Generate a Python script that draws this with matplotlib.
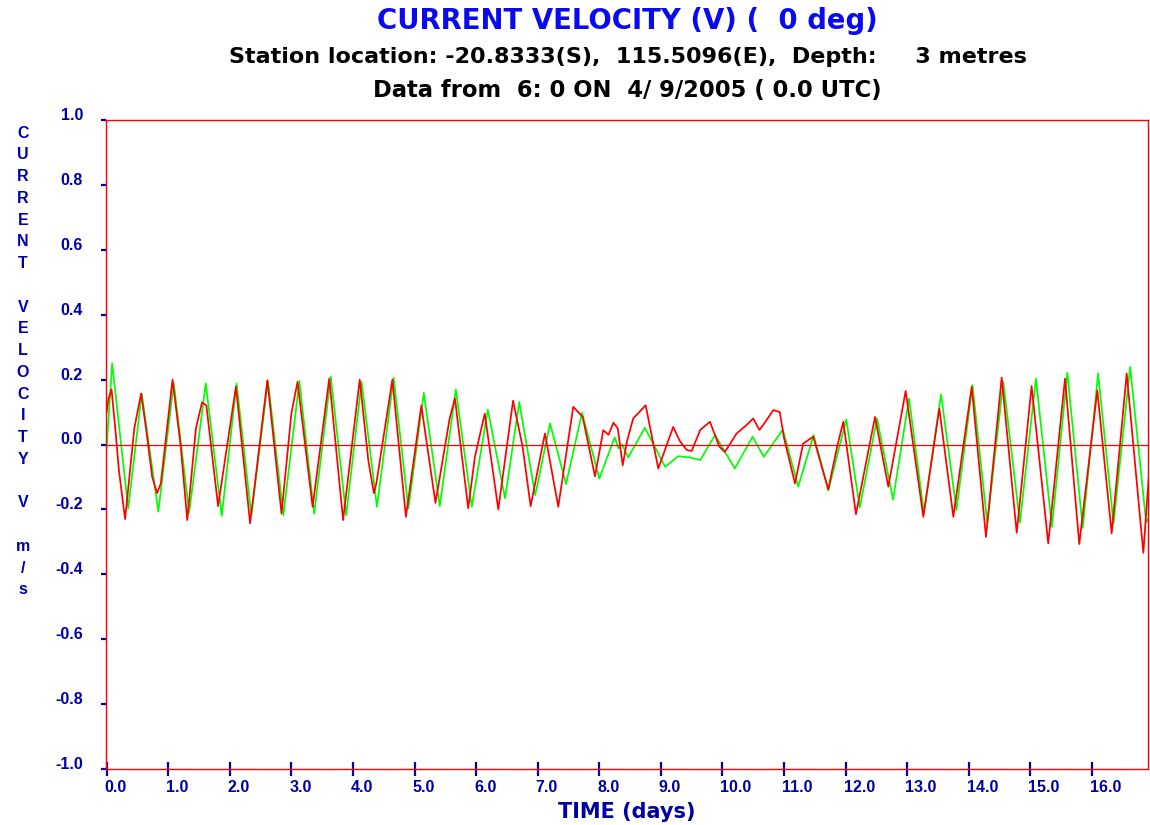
import matplotlib
matplotlib.use("Agg")
import matplotlib.pyplot as plt
import matplotlib.transforms as mtransforms
import numpy as np

plt.rcParams['font.family'] = ['Liberation Sans', 'DejaVu Sans']
plt.rcParams['font.weight'] = 'bold'

# predicted current (green)
pred_t = [0.0, 0.09, 0.35, 0.57, 0.84, 1.09, 1.34, 1.61, 1.87, 2.11, 2.35, 2.62, 2.87, 3.13,
          3.37, 3.64, 3.89, 4.14, 4.39, 4.66, 4.90, 5.15, 5.41, 5.67, 5.93, 6.19, 6.47, 6.70,
          6.96, 7.20, 7.46, 7.72, 8.00, 8.25, 8.31, 8.37, 8.47, 8.74, 9.07, 9.28, 9.47, 9.64,
          9.88, 10.20, 10.49, 10.67, 10.98, 11.23, 11.48, 11.72, 12.01, 12.23, 12.51, 12.77,
          13.03, 13.27, 13.55, 13.80, 14.06, 14.30, 14.56, 14.83, 15.09, 15.35, 15.60, 15.85,
          16.10, 16.35, 16.62, 16.88, 16.91]
pred_v = [-0.01, 0.25, -0.197, 0.157, -0.207, 0.19, -0.21, 0.188, -0.22, 0.188, -0.218, 0.196,
          -0.218, 0.196, -0.213, 0.209, -0.218, 0.193, -0.192, 0.206, -0.197, 0.159, -0.19,
          0.17, -0.192, 0.108, -0.166, 0.131, -0.156, 0.065, -0.122, 0.098, -0.105, 0.022,
          -0.012, 0.0, -0.04, 0.052, -0.069, -0.036, -0.04, -0.048, 0.029, -0.074, 0.024,
          -0.038, 0.046, -0.13, 0.029, -0.141, 0.077, -0.194, 0.08, -0.17, 0.142, -0.21, 0.154,
          -0.202, 0.183, -0.243, 0.193, -0.241, 0.203, -0.254, 0.221, -0.257, 0.219, -0.243,
          0.239, -0.24, -0.23]

# observed current (red)
obs_t = [0.0, 0.03, 0.08, 0.14, 0.20, 0.30, 0.45, 0.56, 0.64, 0.74, 0.82, 0.88, 1.07, 1.20,
         1.31, 1.45, 1.55, 1.62, 1.81, 2.10, 2.33, 2.61, 2.84, 3.00, 3.10, 3.345, 3.615, 3.84,
         4.11, 4.25, 4.34, 4.38, 4.64, 4.86, 5.11, 5.34, 5.57, 5.656, 5.872, 5.98, 6.14, 6.36,
         6.60, 6.755, 6.885, 7.118, 7.334, 7.577, 7.73, 7.93, 8.065, 8.15, 8.23, 8.30, 8.38,
         8.45, 8.55, 8.65, 8.753, 8.958, 9.2, 9.31, 9.42, 9.5, 9.64, 9.797, 9.95, 10.04, 10.23,
         10.39, 10.5, 10.6, 10.68, 10.825, 10.93, 11.0, 11.177, 11.31, 11.475, 11.718, 11.77,
         11.87, 11.962, 12.168, 12.477, 12.693, 12.975, 13.262, 13.521, 13.749, 14.047, 14.279,
         14.534, 14.778, 15.02, 15.29, 15.562, 15.794, 16.087, 16.32, 16.564, 16.834, 16.93]
obs_v = [0.10, 0.14, 0.17, 0.05, -0.08, -0.23, 0.05, 0.157, 0.05, -0.10, -0.15, -0.12, 0.20,
         0.0, -0.233, 0.05, 0.13, 0.12, -0.19, 0.178, -0.243, 0.198, -0.213, 0.095, 0.193,
         -0.192, 0.203, -0.233, 0.20, -0.05, -0.15, -0.12, 0.20, -0.223, 0.12, -0.18, 0.08,
         0.142, -0.197, -0.038, 0.095, -0.20, 0.135, -0.007, -0.19, 0.034, -0.192, 0.116,
         0.085, -0.098, 0.044, 0.03, 0.067, 0.05, -0.064, 0.01, 0.08, 0.10, 0.121, -0.074,
         0.054, 0.01, -0.017, -0.02, 0.045, 0.07, -0.007, -0.023, 0.034, 0.06, 0.08, 0.045,
         0.065, 0.106, 0.10, 0.02, -0.12, 0.003, 0.024, -0.139, -0.09, 0.0, 0.07, -0.215,
         0.085, -0.13, 0.165, -0.223, 0.111, -0.223, 0.178, -0.285, 0.206, -0.272, 0.18,
         -0.305, 0.203, -0.307, 0.167, -0.274, 0.219, -0.334, -0.08]

xticks = list(range(0, 17))
xtick_labels = [f"{v:.1f}" for v in xticks]
yticks = [-1.0, -0.8, -0.6, -0.4, -0.2, 0.0, 0.2, 0.4, 0.6, 0.8, 1.0]
ytick_labels = ["-1.0", "-0.8", "-0.6", "-0.4", "-0.2", "0.0", "0.2", "0.4", "0.6", "0.8", "1.0"]
ylabel_chars = list("CURRENT") + [""] + list("VELOCITY") + [""] + ["V"] + [""] + list("m/s")

navy = '#0000A8'
wide = ['DejaVu Sans']  # the headings in the original are drawn wider than Arial
W, H = 1150, 825
fig = plt.figure(figsize=(W / 100, H / 100), dpi=100)
ax = fig.add_axes([106 / W, 1 - 769 / H, (1148 - 106) / W, (769 - 120) / H])

ax.plot(pred_t, pred_v, color='#00FF00', lw=1.25)
ax.plot(obs_t, obs_v, color='#FF0000', lw=1.25)
ax.axhline(0, color='#FF0000', lw=0.9)

ax.set_xlim(-0.01, 16.91)
ax.set_ylim(-1.0, 1.0)
for sp in ax.spines.values():
    sp.set_color('#FF0000')
    sp.set_linewidth(1.0)

ax.set_xticks(xticks)
ax.set_xticklabels(xtick_labels)
ax.set_yticks(yticks)
ax.set_yticklabels(ytick_labels)
ax.tick_params(axis='x', direction='inout', length=10, width=1.6, color=navy,
               labelcolor=navy, labelsize=11.5, pad=3)
ax.tick_params(axis='y', direction='out', length=3.5, width=1.6, color=navy,
               labelcolor=navy, labelsize=11.5, pad=13)
for lab in ax.get_xticklabels():
    lab.set_ha('left')
    lab.set_fontweight('bold')
    lab.set_transform(lab.get_transform() + mtransforms.ScaledTranslation(-0.02, 0, fig.dpi_scale_trans))
for lab in ax.get_yticklabels():
    lab.set_fontweight('bold')
    lab.set_transform(lab.get_transform() + mtransforms.ScaledTranslation(0, 0.06, fig.dpi_scale_trans))

# titles
fig.text(627 / W, 1 - 21 / H, "CURRENT VELOCITY (V) (  0 deg)", color='#0A0AF0',
         fontsize=19.8, fontweight='bold', family=wide, ha='center', va='center')
fig.text(628 / W, 1 - 57 / H, "Station location: -20.8333(S),  115.5096(E),  Depth:     3 metres",
         color='black', fontsize=16, fontweight='bold', family=wide, ha='center', va='center')
fig.text(627 / W, 1 - 91 / H, "Data from  6: 0 ON  4/ 9/2005 ( 0.0 UTC)",
         color='black', fontsize=16.3, fontweight='bold', family=wide, ha='center', va='center')

# x label
fig.text(627 / W, 1 - 812 / H, "TIME (days)", color=navy, fontsize=15,
         fontweight='bold', family=wide, ha='center', va='center')

# stacked y label
ys = np.linspace(133, 590, len(ylabel_chars))
for ch, yy in zip(ylabel_chars, ys):
    fig.text(23 / W, 1 - yy / H, ch, color=navy, fontsize=11.5, fontweight='bold',
             ha='center', va='center')

fig.savefig("out.png", dpi=100)
